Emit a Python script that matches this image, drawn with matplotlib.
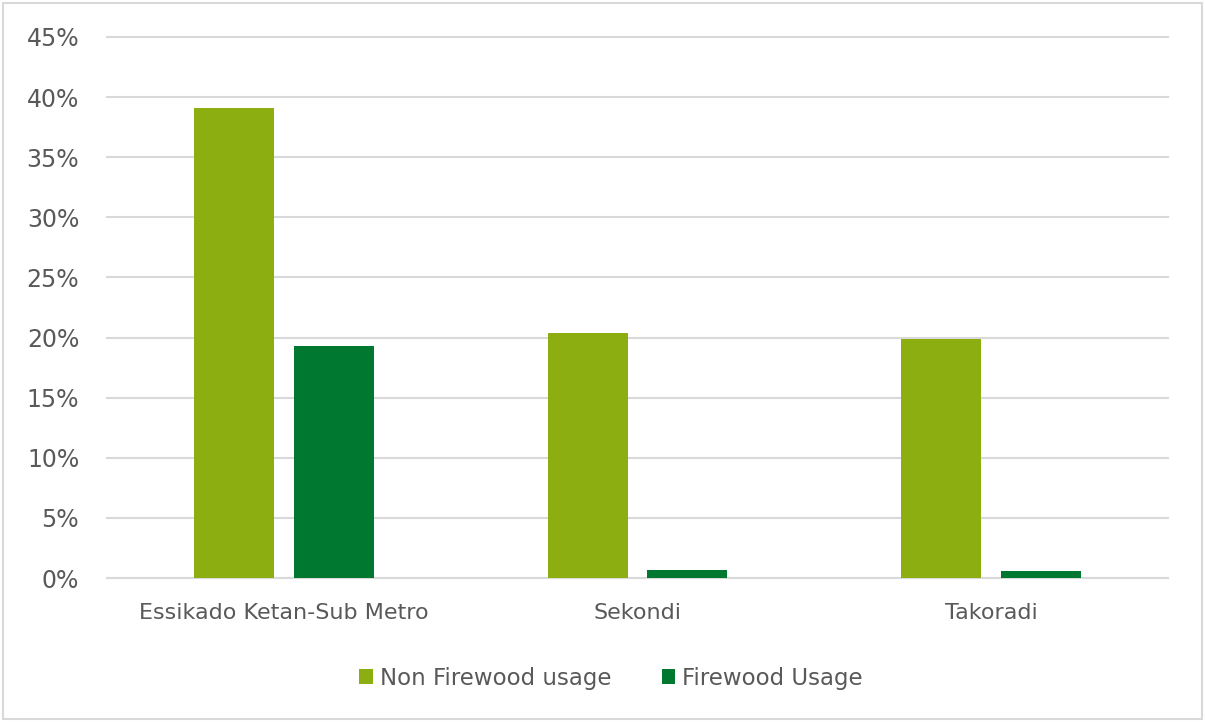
import matplotlib
matplotlib.use("Agg")
import matplotlib.pyplot as plt
import numpy as np
from matplotlib.ticker import FuncFormatter
from matplotlib.patches import Rectangle

categories = ["Essikado Ketan-Sub Metro", "Sekondi", "Takoradi"]
non_firewood = [39.1, 20.4, 19.9]
firewood = [19.3, 0.7, 0.6]
series_names = ["Non Firewood usage", "Firewood Usage"]
colors = ["#8DAE10", "#00782F"]
text_color = "#595959"

plt.rcParams['font.family'] = ['DejaVu Sans']

fig = plt.figure(figsize=(12.05, 7.22), dpi=100)
ax = fig.add_axes([107/1205, 1 - 578/722, (1168-107)/1205, (578-37)/722])

x = np.arange(len(categories))
w = 80/354
off = 50/354
ax.bar(x - off, non_firewood, w, color=colors[0], label=series_names[0], zorder=3)
ax.bar(x + off, firewood, w, color=colors[1], label=series_names[1], zorder=3)

ax.set_xlim(-0.5, 2.5)
ax.set_ylim(0, 45)
ax.set_yticks(np.arange(0, 46, 5))
ax.yaxis.set_major_formatter(FuncFormatter(lambda v, p: f"{v:.0f}%"))
ax.yaxis.grid(True, color="#D9D9D9", linewidth=1.5, zorder=0)
for gl in ax.get_ygridlines():
    gl.set_clip_on(False)
ax.set_axisbelow(True)
for s in ["top", "right", "left"]:
    ax.spines[s].set_visible(False)
ax.spines["bottom"].set_color("#D9D9D9")
ax.spines["bottom"].set_linewidth(1.5)
ax.tick_params(axis="y", length=0, pad=20, labelsize=17, labelcolor=text_color)
ax.tick_params(axis="x", length=0, pad=18, labelsize=16, labelcolor=text_color)
ax.set_xticks(x)
ax.set_xticklabels(categories)

leg = fig.legend(loc="center", bbox_to_anchor=(611/1205, 1 - 678/722), ncol=2,
                 frameon=False, fontsize=16.5, handlelength=0.6, handleheight=0.6,
                 columnspacing=2.2, handletextpad=0.3)
for t in leg.get_texts():
    t.set_color(text_color)

fig.patches.append(Rectangle((3/1205, 3/722), 1199/1205, 716/722, transform=fig.transFigure,
                             fill=False, edgecolor="#D9D9D9", linewidth=1.5))

fig.savefig("out.png", dpi=100, facecolor="white")
